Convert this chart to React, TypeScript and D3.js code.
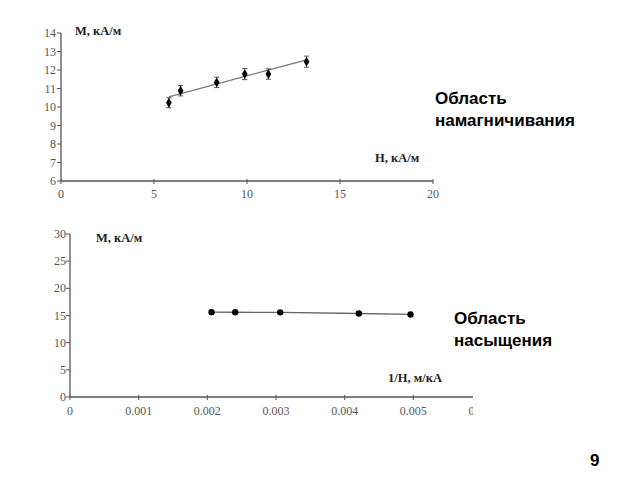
import React from "react";
import * as d3 from "d3";

// Chart 1: magnetization region
const hValues = [5.8, 6.43, 8.37, 9.88, 11.15, 13.2];
const mValues = [10.23, 10.88, 11.33, 11.78, 11.78, 12.45];
const mErrors = [0.27, 0.28, 0.28, 0.3, 0.28, 0.3];
const fitH = [5.8, 13.2];
const fitM = [10.55, 12.55];
const xTicks1 = [0, 5, 10, 15, 20];
const yTicks1 = [6, 7, 8, 9, 10, 11, 12, 13, 14];

// Chart 2: saturation region
const invH = [0.002062, 0.002406, 0.003061, 0.004207, 0.004959];
const mSat = [15.62, 15.6, 15.58, 15.37, 15.19];
const xTicks2 = [0, 0.001, 0.002, 0.003, 0.004, 0.005, 0.006];
const yTicks2 = [0, 5, 10, 15, 20, 25, 30];

const serif = "'Liberation Serif', 'Times New Roman', serif";
const sans = "'Liberation Sans', Arial, sans-serif";
const axisColor = "#555";
const tickText = "#555";

export default function App() {
  const x1 = d3.scaleLinear().domain([0, 20]).range([61, 433]);
  const y1 = d3.scaleLinear().domain([6, 14]).range([181, 33]);
  const x2 = d3.scaleLinear().domain([0, 0.006]).range([70, 482]);
  const y2 = d3.scaleLinear().domain([0, 30]).range([397, 234]);
  const line1 = d3.line<number>().x((d, i) => x1(fitH[i])).y((d) => y1(d));
  const line2 = d3.line<number>().x((d, i) => x2(invH[i])).y((d) => y2(d));
  const fmt2 = (v: number) => (v === 0 ? "0" : d3.format(".3f")(v));
  const diamond = d3.symbol().type(d3.symbolDiamond).size(28)();

  return (
    <svg width={640} height={480} style={{ position: "absolute", left: 0, top: 0, background: "#fff" }}>
      {/* Chart 1 */}
      <g>
        <line x1={x1(0)} x2={x1(0)} y1={y1(6)} y2={y1(14)} stroke={axisColor} strokeWidth={1.3} />
        <line x1={x1(0)} x2={x1(20)} y1={y1(6)} y2={y1(6)} stroke={axisColor} strokeWidth={1.3} />
        {yTicks1.map((t) => (
          <g key={"y1" + t}>
            <line x1={x1(0) - 4} x2={x1(0)} y1={y1(t)} y2={y1(t)} stroke={axisColor} />
            <text x={x1(0) - 5} y={y1(t) + 4} textAnchor="end" fontFamily={serif} fontSize={12} fill={tickText}>{t}</text>
          </g>
        ))}
        {xTicks1.map((t) => (
          <g key={"x1" + t}>
            <line x1={x1(t)} x2={x1(t)} y1={y1(6) - 2} y2={y1(6) + 3} stroke={axisColor} />
            <text x={x1(t)} y={y1(6) + 17} textAnchor="middle" fontFamily={serif} fontSize={12} fill={tickText}>{t}</text>
          </g>
        ))}
        <path d={line1(fitM) || ""} fill="none" stroke="#777" strokeWidth={1.3} />
        {hValues.map((h, i) => (
          <g key={"p1" + i}>
            <line x1={x1(h)} x2={x1(h)} y1={y1(mValues[i] - mErrors[i])} y2={y1(mValues[i] + mErrors[i])} stroke="#555" />
            <line x1={x1(h) - 2.5} x2={x1(h) + 2.5} y1={y1(mValues[i] - mErrors[i])} y2={y1(mValues[i] - mErrors[i])} stroke="#555" />
            <line x1={x1(h) - 2.5} x2={x1(h) + 2.5} y1={y1(mValues[i] + mErrors[i])} y2={y1(mValues[i] + mErrors[i])} stroke="#555" />
            <path d={diamond || ""} transform={`translate(${x1(h)},${y1(mValues[i])})`} fill="#000" />
          </g>
        ))}
        <text x={75} y={35} fontFamily={serif} fontSize={12.5} fontWeight="bold" fill="#222">M, кА/м</text>
        <text x={375} y={162} fontFamily={serif} fontSize={12.5} fontWeight="bold" fill="#222">H, кА/м</text>
      </g>

      {/* Chart 2 */}
      <defs>
        <clipPath id="clip2">
          <rect x={0} y={220} width={473} height={210} />
        </clipPath>
      </defs>
      <g clipPath="url(#clip2)">
        <line x1={x2(0)} x2={x2(0)} y1={y2(0)} y2={y2(30)} stroke={axisColor} strokeWidth={1.3} />
        <line x1={x2(0)} x2={x2(0.006)} y1={y2(0)} y2={y2(0)} stroke={axisColor} strokeWidth={1.3} />
        {yTicks2.map((t) => (
          <g key={"y2" + t}>
            <line x1={x2(0) - 4} x2={x2(0)} y1={y2(t)} y2={y2(t)} stroke={axisColor} />
            <text x={x2(0) - 4} y={y2(t) + 4} textAnchor="end" fontFamily={serif} fontSize={12} fill={tickText}>{t}</text>
          </g>
        ))}
        {xTicks2.map((t) => (
          <g key={"x2" + t}>
            <line x1={x2(t)} x2={x2(t)} y1={y2(0) - 2} y2={y2(0) + 3} stroke={axisColor} />
            <text x={x2(t)} y={y2(0) + 18} textAnchor="middle" fontFamily={serif} fontSize={12} fill={tickText}>{fmt2(t)}</text>
          </g>
        ))}
        <path d={line2(mSat) || ""} fill="none" stroke="#666" strokeWidth={1.3} />
        {invH.map((v, i) => (
          <circle key={"p2" + i} cx={x2(v)} cy={y2(mSat[i])} r={3.2} fill="#000" />
        ))}
        <text x={96} y={242} fontFamily={serif} fontSize={12.5} fontWeight="bold" fill="#222">M, кА/м</text>
        <text x={388} y={382} fontFamily={serif} fontSize={12.5} fontWeight="bold" fill="#222">1/H, м/кА</text>
      </g>

      {/* Annotations */}
      <text x={435} y={104} fontFamily={sans} fontSize={17} fontWeight="bold" fill="#000">Область</text>
      <text x={435} y={126} fontFamily={sans} fontSize={17} fontWeight="bold" fill="#000">намагничивания</text>
      <text x={454} y={324} fontFamily={sans} fontSize={17} fontWeight="bold" fill="#000">Область</text>
      <text x={454} y={346} fontFamily={sans} fontSize={17} fontWeight="bold" fill="#000">насыщения</text>
      <text x={590} y={466} fontFamily={sans} fontSize={17} fontWeight="bold" fill="#000">9</text>
    </svg>
  );
}
